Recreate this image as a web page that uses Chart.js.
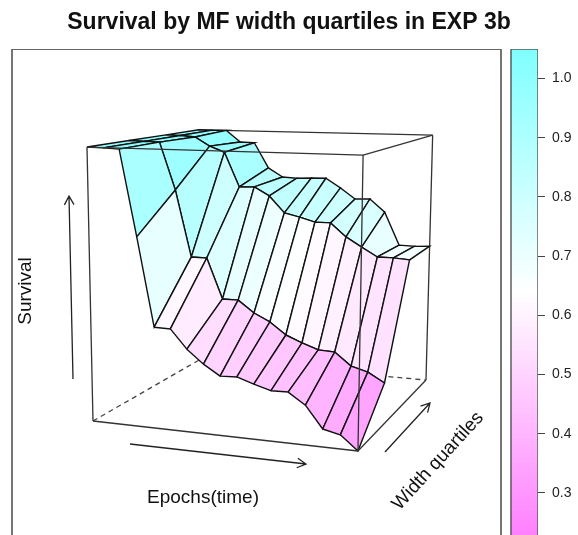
<!DOCTYPE html>
<html>
<head>
<meta charset="utf-8">
<title>Survival by MF width quartiles in EXP 3b</title>
<script src="https://cdn.jsdelivr.net/npm/chart.js@4"></script>
<style>
  html, body { margin: 0; padding: 0; background: #fff; }
  canvas { display: block; filter: blur(0.4px); }
</style>
</head>
<body>
<canvas id="superficie" width="578" height="535"></canvas>
<script>
// Values
const epochs = [1, 2, 3, 4, 5, 6, 7, 8, 9, 10, 11, 12, 13, 14, 15, 16, 17];
const quartiles = [1, 2, 3, 4];
const survivalQ1 = [1.0, 0.999, 0.997, 0.777, 0.547, 0.546, 0.497, 0.462, 0.435, 0.437, 0.423, 0.410, 0.411, 0.382, 0.326, 0.316, 0.28];
const survivalQ2 = [1.0, 0.999, 0.998, 0.871, 0.691, 0.691, 0.582, 0.582, 0.550, 0.529, 0.497, 0.479, 0.464, 0.462, 0.428, 0.416, 0.391];
const survivalQ3 = [1.0, 0.999, 0.996, 0.971, 0.955, 0.858, 0.860, 0.836, 0.790, 0.780, 0.768, 0.768, 0.731, 0.705, 0.680, 0.680, 0.677];
const survivalQ4 = [1.0, 1.0, 1.0, 0.966, 0.965, 0.891, 0.865, 0.863, 0.865, 0.866, 0.839, 0.808, 0.810, 0.773, 0.678, 0.677, 0.680];
const keyTicks = [0.3, 0.4, 0.5, 0.6, 0.7, 0.8, 0.9, 1.0];

const survival = [survivalQ1, survivalQ2, survivalQ3, survivalQ4];
const zMin = 0.28, zMax = 1.0;
const keyMin = 0.229, keyMax = 1.05, keyLevels = 100;

// Perspective camera fitted on the box corners
function project(ex, qy, zt) {
    const w = 1 - 0.0753 * ex + 0.196 * qy - 0.039 * zt;
    return {
        x: (93 + 238 * ex + 146.4 * qy - 9.4 * zt) / w,
        y: (421 - 3.95 * ex + 8.85 * qy - 279.7 * zt) / w
    };
}

function gridPoint(i, j) {
    const ex = (epochs[i] - epochs[0]) / (epochs[epochs.length - 1] - epochs[0]);
    const qy = (quartiles[j] - quartiles[0]) / (quartiles[quartiles.length - 1] - quartiles[0]);
    const zt = (survival[j][i] - zMin) / (zMax - zMin);
    return project(ex, qy, zt);
}

// cm.colors style ramp, cut in the same levels as the key
function levelColor(value) {
    const level = Math.min(keyLevels - 1, Math.max(0, Math.floor((value - keyMin) / (keyMax - keyMin) * keyLevels)));
    const t = (level + 0.5) / keyLevels;
    if (t >= 0.5) {
        const c = Math.round(255 - (t - 0.5) * 2 * 127);
        return `rgb(${c},255,255)`;
    }
    const c = Math.round(255 - (0.5 - t) * 2 * 127);
    return `rgb(255,${c},255)`;
}

function boxLine(a, b, color, dash) {
    return {
        type: 'scatter', showLine: true, data: [project(...a), project(...b)],
        borderColor: color, borderWidth: 1.3, borderDash: dash || [], pointRadius: 0, fill: false, tension: 0
    };
}

function polyline(points, color, width) {
    return {
        type: 'scatter', showLine: true, data: points, borderColor: color, borderWidth: width,
        pointRadius: 0, fill: false, tension: 0
    };
}

// Painter order: first in this list is painted first
const layers = [];

// Panel and key frames
const panelFrame = [{x: 12, y: 540}, {x: 12, y: 49}, {x: 501, y: 49}, {x: 501, y: 540}];
const keyFrame = [{x: 511, y: 540}, {x: 511, y: 49}, {x: 538, y: 49}, {x: 538, y: 540}];
layers.push(polyline(panelFrame, '#666', 1.8));

// Hidden and back edges of the box
const boxBack = '#333';
layers.push(boxLine([0, 0, 0], [0, 1, 0], '#444', [5, 4]));
layers.push(boxLine([0, 1, 0], [1, 1, 0], '#444', [5, 4]));
layers.push(boxLine([0, 1, 0], [0, 1, 1], '#444', [5, 4]));
layers.push(boxLine([0, 1, 1], [1, 1, 1], boxBack));
layers.push(boxLine([1, 1, 0], [1, 1, 1], boxBack));
layers.push(boxLine([1, 0, 1], [1, 1, 1], boxBack));

// Surface, back row to front row, left to right
for (let j = quartiles.length - 2; j >= 0; j--) {
    for (let i = 0; i < epochs.length - 1; i++) {
        const mean = (survival[j][i] + survival[j][i + 1] + survival[j + 1][i] + survival[j + 1][i + 1]) / 4;
        const a = gridPoint(i, j);
        layers.push({
            type: 'scatter', showLine: true,
            data: [a, gridPoint(i + 1, j), gridPoint(i + 1, j + 1), gridPoint(i, j + 1), a],
            borderColor: '#111', borderWidth: 1.4, backgroundColor: levelColor(mean),
            fill: 'shape', pointRadius: 0, tension: 0
        });
    }
}

// Front edges go over the surface
layers.push(boxLine([0, 0, 0], [1, 0, 0], boxBack));
layers.push(boxLine([0, 0, 0], [0, 0, 1], boxBack));
layers.push(boxLine([0, 0, 1], [1, 0, 1], boxBack));
layers.push(boxLine([1, 0, 0], [1, 0, 1], boxBack));
layers.push(boxLine([1, 0, 0], [1, 1, 0], boxBack));

// Colour key
const keyBars = [];
const keyColors = [];
for (let k = 0; k < keyLevels; k++) {
    const lo = keyMin + (keyMax - keyMin) * k / keyLevels;
    const hi = keyMin + (keyMax - keyMin) * (k + 1.3) / keyLevels;
    keyBars.push({x: 524.5, y: [lo, Math.min(hi, keyMax)]});
    keyColors.push(levelColor((lo + keyMin + (keyMax - keyMin) * (k + 1) / keyLevels) / 2));
}
layers.push({
    type: 'bar', data: keyBars, backgroundColor: keyColors, borderWidth: 0,
    barThickness: 27, xAxisID: 'x', yAxisID: 'key'
});
layers.push(polyline(keyFrame, '#555', 1.4));

// Arrows and axis titles
const arrows = [
    [[73, 379], [69, 196]],
    [[130, 444], [306, 464]],
    [[385, 452], [430, 403]]
];
const axisTitles = [
    {text: 'Survival', x: 26, y: 291, angle: -Math.PI / 2},
    {text: 'Epochs(time)', x: 203, y: 498, angle: 0},
    {text: 'Width quartiles', x: 438, y: 461, angle: -0.83}
];

const anotaciones = {
    id: 'anotaciones',
    afterDatasetsDraw(chart) {
        const ctx = chart.ctx;
        const sx = chart.scales.x, sy = chart.scales.y;
        ctx.save();
        ctx.strokeStyle = '#222';
        ctx.lineWidth = 1.3;
        arrows.forEach(([from, to]) => {
            const x0 = sx.getPixelForValue(from[0]), y0 = sy.getPixelForValue(from[1]);
            const x1 = sx.getPixelForValue(to[0]), y1 = sy.getPixelForValue(to[1]);
            const ang = Math.atan2(y1 - y0, x1 - x0);
            ctx.beginPath();
            ctx.moveTo(x0, y0);
            ctx.lineTo(x1, y1);
            ctx.moveTo(x1 - 10 * Math.cos(ang - 0.5), y1 - 10 * Math.sin(ang - 0.5));
            ctx.lineTo(x1, y1);
            ctx.lineTo(x1 - 10 * Math.cos(ang + 0.5), y1 - 10 * Math.sin(ang + 0.5));
            ctx.stroke();
        });
        ctx.fillStyle = '#111';
        ctx.font = '19px "Liberation Sans"';
        ctx.textAlign = 'center';
        ctx.textBaseline = 'middle';
        axisTitles.forEach(t => {
            ctx.save();
            ctx.translate(sx.getPixelForValue(t.x), sy.getPixelForValue(t.y));
            ctx.rotate(t.angle);
            ctx.fillText(t.text, 0, 0);
            ctx.restore();
        });
        ctx.restore();
    }
};

new Chart(document.getElementById('superficie'), {
    type: 'scatter',
    data: { datasets: layers.slice().reverse() },
    options: {
        responsive: false,
        animation: false,
        layout: { padding: 0, autoPadding: false },
        plugins: {
            legend: { display: false },
            tooltip: { enabled: false },
            title: {
                display: true,
                text: 'Survival by MF width quartiles in EXP 3b',
                color: '#111',
                font: { family: '"Liberation Sans"', size: 23, weight: 'bold', lineHeight: 1.2 },
                padding: { top: 9, bottom: 12.4 }
            }
        },
        scales: {
            // the bar defaults switch offset on, which would shrink this scale
            x: { type: 'linear', display: false, min: 0, max: 538, offset: false },
            y: { type: 'linear', display: false, min: 49, max: 535, reverse: true },
            key: {
                type: 'linear',
                position: 'right',
                min: keyMin,
                max: keyMax,
                afterFit(scale) {
                    scale.width = 40;
                    scale.paddingTop = 0;
                    scale.paddingBottom = 0;
                },
                afterBuildTicks(scale) { scale.ticks = keyTicks.map(value => ({ value })); },
                border: { display: false },
                grid: { drawOnChartArea: false, drawTicks: true, tickLength: 7, color: '#444' },
                ticks: {
                    color: '#222',
                    padding: 7,
                    font: { family: '"Liberation Sans"', size: 14 },
                    callback: value => value.toFixed(1)
                }
            }
        }
    },
    plugins: [anotaciones]
});
</script>
</body>
</html>
